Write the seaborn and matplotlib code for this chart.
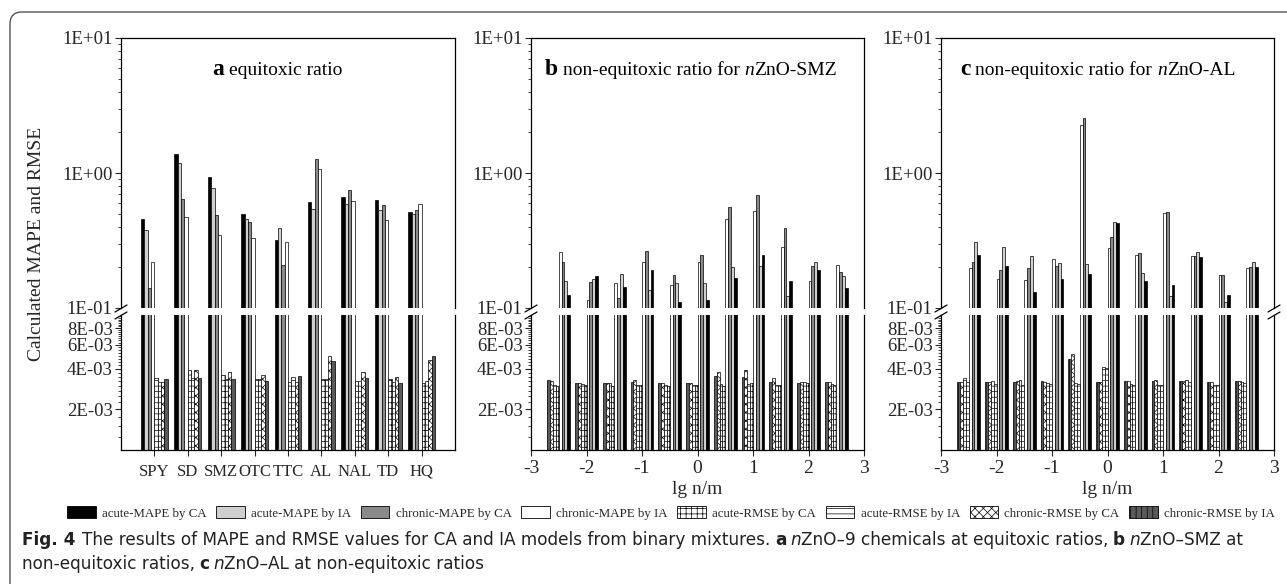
import numpy as np
import pandas as pd
import seaborn as sns
import matplotlib.pyplot as plt
from matplotlib.patches import Patch, FancyBboxPatch
from matplotlib.ticker import FixedLocator, NullFormatter

sns.set_style("ticks")
plt.rcParams['font.family'] = ['Liberation Serif', 'DejaVu Serif']
plt.rcParams['axes.unicode_minus'] = False
plt.rcParams['hatch.linewidth'] = 0.5
plt.rcParams['axes.edgecolor'] = 'black'

W, H = 1287, 584

# ---- data ----
series = ['acute-MAPE by CA', 'acute-MAPE by IA', 'chronic-MAPE by CA', 'chronic-MAPE by IA',
          'acute-RMSE by CA', 'acute-RMSE by IA', 'chronic-RMSE by CA', 'chronic-RMSE by IA']

chemicals = ['SPY', 'SD', 'SMZ', 'OTC', 'TTC', 'AL', 'NAL', 'TD', 'HQ']
a_acute_mape_ca = [0.46, 1.38, 0.93, 0.50, 0.32, 0.61, 0.66, 0.63, 0.51]
a_acute_mape_ia = [0.38, 1.18, 0.77, 0.46, 0.39, 0.54, 0.59, 0.53, 0.50]
a_chronic_mape_ca = [0.14, 0.64, 0.49, 0.43, 0.21, 1.26, 0.75, 0.58, 0.53]
a_chronic_mape_ia = [0.22, 0.475, 0.35, 0.33, 0.31, 1.07, 0.62, 0.45, 0.59]
a_acute_rmse_ca = [3.40e-3, 3.94e-3, 3.60e-3, 3.37e-3, 3.20e-3, 3.37e-3, 3.27e-3, 3.37e-3, 3.14e-3]
a_acute_rmse_ia = [3.20e-3, 3.42e-3, 3.37e-3, 3.37e-3, 3.50e-3, 3.33e-3, 3.23e-3, 3.20e-3, 3.25e-3]
a_chronic_rmse_ca = [3.20e-3, 3.94e-3, 3.80e-3, 3.60e-3, 3.20e-3, 4.93e-3, 3.80e-3, 3.50e-3, 4.64e-3]
a_chronic_rmse_ia = [3.37e-3, 3.40e-3, 3.37e-3, 3.27e-3, 3.52e-3, 4.58e-3, 3.42e-3, 3.14e-3, 4.99e-3]

lg_ratio = [-2.5, -2.0, -1.5, -1.0, -0.5, 0.0, 0.5, 1.0, 1.5, 2.0, 2.5]

# nZnO-SMZ
b_acute_mape_ca = [0.125, 0.173, 0.144, 0.191, 0.110, 0.115, 0.166, 0.247, 0.158, 0.191, 0.141]
b_acute_mape_ia = [0.158, 0.164, 0.178, 0.137, 0.152, 0.152, 0.200, 0.206, 0.123, 0.220, 0.172]
b_chronic_mape_ca = [0.220, 0.155, 0.118, 0.266, 0.175, 0.248, 0.557, 0.687, 0.389, 0.206, 0.186]
b_chronic_mape_ia = [0.259, 0.115, 0.152, 0.218, 0.148, 0.220, 0.456, 0.526, 0.284, 0.158, 0.210]
b_acute_rmse_ca = [3.00e-3, 3.04e-3, 3.00e-3, 3.04e-3, 3.00e-3, 3.02e-3, 3.00e-3, 3.14e-3, 3.04e-3, 3.11e-3, 3.04e-3]
b_acute_rmse_ia = [3.04e-3, 3.09e-3, 3.11e-3, 3.04e-3, 3.04e-3, 3.05e-3, 3.09e-3, 3.09e-3, 3.04e-3, 3.17e-3, 3.07e-3]
b_chronic_rmse_ca = [3.23e-3, 3.12e-3, 3.12e-3, 3.31e-3, 3.14e-3, 3.14e-3, 3.80e-3, 3.94e-3, 3.42e-3, 3.17e-3, 3.17e-3]
b_chronic_rmse_ia = [3.32e-3, 3.11e-3, 3.14e-3, 3.19e-3, 3.14e-3, 3.14e-3, 3.52e-3, 3.46e-3, 3.19e-3, 3.14e-3, 3.21e-3]

# nZnO-AL
c_acute_mape_ca = [0.247, 0.206, 0.131, 0.163, 0.179, 0.424, 0.158, 0.148, 0.237, 0.125, 0.202]
c_acute_mape_ia = [0.307, 0.284, 0.244, 0.214, 0.212, 0.436, 0.181, 0.123, 0.259, 0.111, 0.220]
c_chronic_mape_ca = [0.218, 0.191, 0.199, 0.205, 2.54, 0.334, 0.254, 0.517, 0.244, 0.176, 0.202]
c_chronic_mape_ia = [0.197, 0.163, 0.161, 0.231, 2.27, 0.277, 0.247, 0.508, 0.243, 0.175, 0.197]
c_acute_rmse_ca = [3.17e-3, 3.09e-3, 3.04e-3, 3.07e-3, 3.09e-3, 4.05e-3, 3.05e-3, 3.04e-3, 3.21e-3, 3.04e-3, 3.14e-3]
c_acute_rmse_ia = [3.40e-3, 3.25e-3, 3.29e-3, 3.14e-3, 3.14e-3, 4.12e-3, 3.09e-3, 3.04e-3, 3.30e-3, 3.04e-3, 3.21e-3]
c_chronic_rmse_ca = [3.17e-3, 3.17e-3, 3.25e-3, 3.21e-3, 5.10e-3, 3.21e-3, 3.25e-3, 3.29e-3, 3.27e-3, 3.19e-3, 3.25e-3]
c_chronic_rmse_ia = [3.17e-3, 3.17e-3, 3.19e-3, 3.23e-3, 4.72e-3, 3.17e-3, 3.25e-3, 3.25e-3, 3.27e-3, 3.19e-3, 3.25e-3]

colors = {'acute-MAPE by CA': 'black', 'acute-MAPE by IA': '#cfcfcf',
          'chronic-MAPE by CA': '#8a8a8a', 'chronic-MAPE by IA': 'white',
          'acute-RMSE by CA': 'white', 'acute-RMSE by IA': 'white',
          'chronic-RMSE by CA': 'white', 'chronic-RMSE by IA': '#5a5a5a'}
hatches = {'acute-MAPE by CA': '', 'acute-MAPE by IA': '', 'chronic-MAPE by CA': '',
           'chronic-MAPE by IA': '', 'acute-RMSE by CA': '+++', 'acute-RMSE by IA': '---',
           'chronic-RMSE by CA': 'xxxx', 'chronic-RMSE by IA': '|||'}


def long_df(xvals, cols):
    rows = []
    for name, vals in zip(series, cols):
        for xv, v in zip(xvals, vals):
            rows.append((xv, name, v))
    return pd.DataFrame(rows, columns=['x', 'series', 'value'])


df_a = long_df(chemicals, [a_acute_mape_ca, a_acute_mape_ia, a_chronic_mape_ca, a_chronic_mape_ia,
                           a_acute_rmse_ca, a_acute_rmse_ia, a_chronic_rmse_ca, a_chronic_rmse_ia])
df_b = long_df(lg_ratio, [b_acute_mape_ca, b_acute_mape_ia, b_chronic_mape_ca, b_chronic_mape_ia,
                          b_acute_rmse_ca, b_acute_rmse_ia, b_chronic_rmse_ca, b_chronic_rmse_ia])
df_c = long_df(lg_ratio, [c_acute_mape_ca, c_acute_mape_ia, c_chronic_mape_ca, c_chronic_mape_ia,
                          c_acute_rmse_ca, c_acute_rmse_ia, c_chronic_rmse_ca, c_chronic_rmse_ia])

fig = plt.figure(figsize=(W / 100, H / 100), dpi=100)


def frac(x0, y0, x1, y1):
    return [x0 / W, 1 - y1 / H, (x1 - x0) / W, (y1 - y0) / H]


def draw_panel(x0, x1, df, hue_order, native, width):
    ax_top = fig.add_axes(frac(x0, 38, x1, 308))
    ax_bot = fig.add_axes(frac(x0, 315, x1, 450))
    for ax in (ax_top, ax_bot):
        ax.set_yscale('log')
        sns.barplot(data=df, x='x', y='value', hue='series', hue_order=hue_order,
                    native_scale=native, width=width, palette=colors, edgecolor='black',
                    linewidth=0.5, errorbar=None, legend=False, ax=ax)
        for cont, name in zip(ax.containers, hue_order):
            for bar in cont:
                bar.set_hatch(hatches[name])
        ax.set_xlabel('')
        ax.set_ylabel('')
        for s in ax.spines.values():
            s.set_linewidth(0.9)
        ax.tick_params(axis='y', which='major', length=4, width=0.8, labelsize=13.5, pad=2)
        ax.tick_params(axis='y', which='minor', length=2, width=0.6)
    ax_top.set_ylim(0.1, 10)
    ax_top.set_yticks([0.1, 1, 10], ['1E-01', '1E+00', '1E+01'])
    ax_top.yaxis.set_minor_locator(FixedLocator([k * d for d in (0.1, 1) for k in range(2, 10)]))
    ax_top.yaxis.set_minor_formatter(NullFormatter())
    ax_top.spines['bottom'].set_visible(False)
    ax_top.tick_params(axis='x', bottom=False, labelbottom=False)

    ax_bot.set_ylim(1e-3, 1e-2)
    ax_bot.set_yticks([2e-3, 4e-3, 6e-3, 8e-3], ['2E-03', '4E-03', '6E-03', '8E-03'])
    ax_bot.yaxis.set_minor_locator(FixedLocator(np.arange(1.25e-3, 1e-2, 2.5e-4)))
    ax_bot.yaxis.set_minor_formatter(NullFormatter())
    ax_bot.spines['top'].set_visible(False)
    return ax_top, ax_bot


order_a = series
order_bc = series[::-1]

ta, ba = draw_panel(121, 455, df_a, order_a, False, 0.8)
for ax in (ta, ba):
    ax.set_xlim(-1, 9)
ba.set_xticks(range(9), chemicals)
ba.tick_params(axis='x', length=4, width=0.8, labelsize=12, pad=6)

for x0, x1, df in ((531, 864, df_b), (941, 1274, df_c)):
    t, b = draw_panel(x0, x1, df, order_bc, True, 0.82)
    for ax in (t, b):
        ax.set_xlim(-3, 3)
    b.set_xticks(range(-3, 4), [str(v) for v in range(-3, 4)])
    b.tick_params(axis='x', length=4, width=0.8, labelsize=14, pad=3)
    b.set_xlabel('lg n/m', fontsize=14, labelpad=3)

fig.text(37 / W, 1 - 244 / H, 'Calculated MAPE and RMSE', rotation=90,
         ha='center', va='center', fontsize=14)

# overlay for frame, break marks, titles and caption (pixel coordinates)
ov = fig.add_axes([0, 0, 1, 1])
ov.set_xlim(0, W)
ov.set_ylim(H, 0)
ov.axis('off')

ov.add_patch(FancyBboxPatch((10, 12), 1400, 700, boxstyle='round,pad=0,rounding_size=12',
                            fc='none', ec='#555555', lw=1.0))

for bx in (121, 531, 941, 1274):
    for by in (308.5, 315.5):
        ov.plot([bx - 6, bx + 6], [by + 3.5, by - 3.5], color='black', lw=0.9)


def chain(x, y, parts, family, color='black'):
    prev = None
    for text, style, size, gap in parts:
        kw = dict(fontsize=size, family=family, color=color, va='baseline', ha='left')
        if style == 'b':
            kw['fontweight'] = 'bold'
        elif style == 'i':
            kw['fontstyle'] = 'italic'
        if prev is None:
            prev = ov.text(x, y, text, **kw)
        else:
            prev = ov.annotate(text, xy=(1, y), xycoords=(prev, 'data'),
                               xytext=(gap, 0), textcoords='offset points', **kw)


serif = ['Liberation Serif', 'DejaVu Serif']
chain(212, 75, [('a', 'b', 17, 0), ('equitoxic ratio', 'n', 14, 3.5)], serif)
chain(545, 75, [('b', 'b', 17, 0), ('non-equitoxic ratio for', 'n', 14, 3.5),
                ('n', 'i', 14, 3.5), ('ZnO-SMZ', 'n', 14, 0)], serif)
chain(960, 75, [('c', 'b', 17, 0), ('non-equitoxic ratio for', 'n', 14, 3.5),
                ('n', 'i', 14, 3.5), ('ZnO-AL', 'n', 14, 0)], serif)

handles = [Patch(facecolor=colors[s], edgecolor='black', hatch=hatches[s], lw=0.6, label=s)
           for s in series]
fig.legend(handles=handles, loc='center', bbox_to_anchor=(671 / W, 1 - 513 / H), ncol=8,
           frameon=False, fontsize=9.3, handlelength=2.2, handleheight=1.0,
           handletextpad=0.5, columnspacing=0.75)

sans = ['DejaVu Sans']
cs = 12.2
chain(22, 545, [('Fig. 4', 'b', cs, 0),
                ('The results of MAPE and RMSE values for CA and IA models from binary mixtures.', 'n', cs, 5),
                ('a', 'b', cs, 3), ('n', 'i', cs, 3), ('ZnO–9 chemicals at equitoxic ratios,', 'n', cs, 0),
                ('b', 'b', cs, 3), ('n', 'i', cs, 3), ('ZnO–SMZ at', 'n', cs, 0)], sans, '#222222')
chain(22, 569, [('non-equitoxic ratios,', 'n', cs, 0), ('c', 'b', cs, 3), ('n', 'i', cs, 3),
                ('ZnO–AL at non-equitoxic ratios', 'n', cs, 0)], sans, '#222222')

fig.savefig('out.png', dpi=100)
